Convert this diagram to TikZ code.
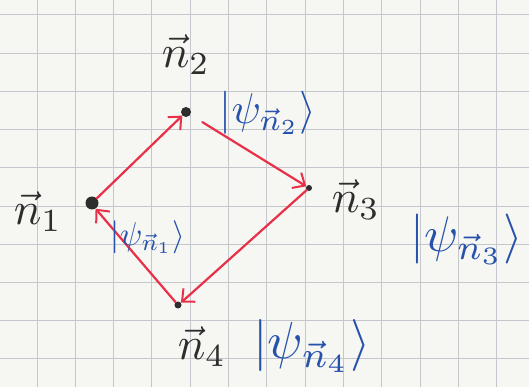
\documentclass[tikz,border=0pt]{standalone}
\usetikzlibrary{arrows.meta}
\definecolor{paper}{RGB}{246,246,243}
\definecolor{gridc}{RGB}{196,199,204}
\definecolor{arrred}{RGB}{232,48,72}
\definecolor{ketblue}{RGB}{38,82,172}
\definecolor{ink}{RGB}{45,45,45}
\tikzset{
  gridline/.style={gridc, line width=1pt},
  dotnode/.style={circle, fill=ink, inner sep=0pt, minimum size=#1},
  arr/.style={arrred, line width=2.2pt, line cap=round, -{Straight Barb[length=10pt,width=18pt,line width=2pt]}},
  vlabel/.style={ink, scale=4.6, inner sep=0pt},
  ket/.style={ketblue, inner sep=0pt},
}
\begin{document}
\begin{tikzpicture}[x=1pt,y=-1pt]
\fill[paper] (0,0) rectangle (529,387);
\useasboundingbox (0,0) rectangle (529,387);
\foreach \i in {0,...,13} \draw[gridline] ({-1.3+38.3*\i},0) -- ++(0,387);
\foreach \j in {0,...,9} \draw[gridline] (0,{15+38.2*\j}) -- ++(529,0);
% points
\node[dotnode=13pt] (n1) at (92,203) {};
\node[dotnode=10pt] (n2) at (186,112) {};
\node[dotnode=6pt] (n3) at (309,188) {};
\node[dotnode=7pt] (n4) at (178,305) {};
% arrows
\draw[arr] (n1) -- (n2);
\draw[arr, shorten <=14pt] (n2) -- (n3);
\draw[arr] ([shift={(-10,22)}]n3) -- ([shift={(4,-1)}]n4);
\draw[arr] ([shift={(-18,7)}]n4) -- ([shift={(-4,26)}]n1);
% vector labels
\node[vlabel] (l2) at (186,55) {$\vec{n}_2$};
\node[vlabel] (l1) at (38,212) {$\vec{n}_1$};
\node[vlabel] (l3) at (356,200) {$\vec{n}_3$};
\node[vlabel] (l4) at (202,347) {$\vec{n}_4$};
% kets
\node[ket, scale=4.3] (k2) at (268,113) {$|\psi_{\vec{n}_2}\rangle$};
\node[ket, scale=3.3] (k1) at (148,237) {$|\psi_{\vec{n}_1}\rangle$};
\node[ket, scale=5.0] (k3) at (467,239) {$|\psi_{\vec{n}_3}\rangle$};
\node[ket, scale=5.2] (k4) at (312,346) {$|\psi_{\vec{n}_4}\rangle$};
\end{tikzpicture}
\end{document}
